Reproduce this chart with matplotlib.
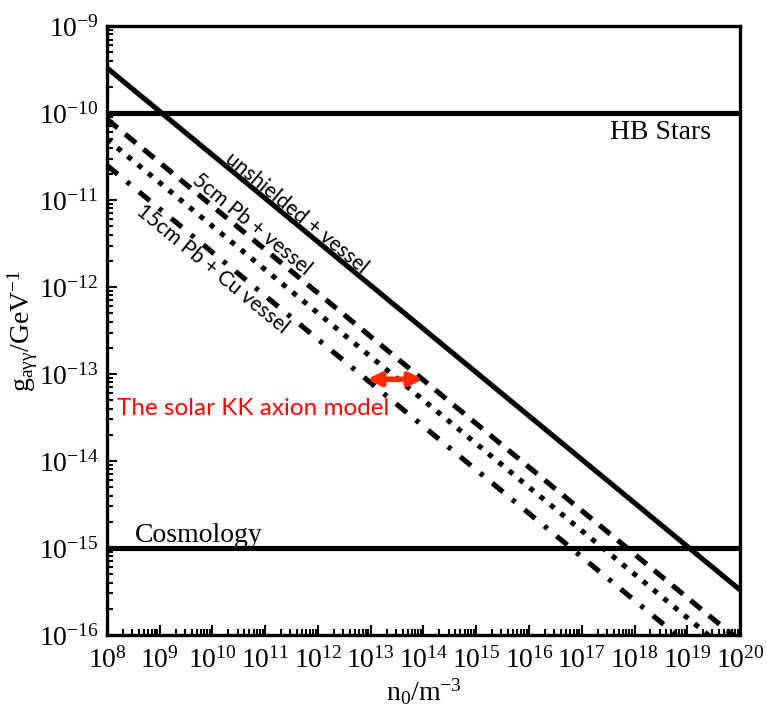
"""
Axion-photon coupling sensitivity vs. KK axion number density.
Log-log plot with exclusion lines for several shielding setups,
the HB-star and cosmology bounds, and the solar KK axion model range.
"""
import matplotlib
matplotlib.use("Agg")
import matplotlib.pyplot as plt
import matplotlib.ticker as mticker
import numpy as np

# ---------------------------------------------------------------------------
# Data
# ---------------------------------------------------------------------------

# density range covered by the sensitivity lines (m^-3)
n_range = [1e8, 1e20]

# g_agg (GeV^-1) at the two ends of n_range, slope n^-1/2
g_unshielded = [3.3e-10, 3.3e-16]
g_5cm_pb = [8.5e-11, 8.5e-17]
g_15cm_pb_cu = [5.0e-11, 5.0e-17]
g_15cm_label = [2.5e-11, 2.5e-17]

# astrophysical / cosmological bounds
g_hb_stars = 1e-10
g_cosmology = 1e-15

# solar KK axion model: density span at fixed coupling
kk_n = [8.5e12, 9.8e13]
kk_g = 8.7e-14

x_decades = list(range(8, 21))
y_decades = list(range(-16, -8))

SERIF = "Liberation Serif"
SANS = "Lato"

plt.rcParams.update({
    "font.family": SERIF,
    "mathtext.fontset": "custom",
    "mathtext.rm": SERIF,
    "mathtext.it": SERIF + ":italic",
    "axes.unicode_minus": False,
})


def _pow10(v, _):
    e = int(round(np.log10(v)))
    return rf"$\mathregular{{10^{{{e}}}}}$"


fig = plt.figure(figsize=(7.67, 7.13), dpi=100)
ax = fig.add_axes([0.1395, 0.1094, 0.8253, 0.8541])

lw = 3.7
ax.plot(n_range, g_unshielded, color="black", lw=lw, solid_capstyle="butt")
ax.plot(n_range, g_5cm_pb, color="black", lw=lw,
        linestyle=(0, (2.7, 1.9)), dash_capstyle="butt")
ax.plot(n_range, g_15cm_pb_cu, color="black", lw=lw,
        linestyle=(0, (1.0, 1.6)), dash_capstyle="butt")
ax.plot(n_range, g_15cm_label, color="black", lw=lw,
        linestyle=(0, (2.7, 2.3, 0.8, 2.3)), dash_capstyle="butt")

ax.axhline(g_hb_stars, color="black", lw=lw)
ax.axhline(g_cosmology, color="black", lw=lw)

ax.set_xscale("log")
ax.set_yscale("log")
ax.set_xlim(10.0 ** x_decades[0], 10.0 ** x_decades[-1])
ax.set_ylim(10.0 ** y_decades[0], 10.0 ** y_decades[-1])

ax.xaxis.set_major_locator(mticker.FixedLocator([10.0 ** d for d in x_decades]))
ax.yaxis.set_major_locator(mticker.FixedLocator([10.0 ** d for d in y_decades]))
ax.xaxis.set_minor_locator(mticker.LogLocator(base=10, subs=np.arange(2, 10), numticks=50))
ax.yaxis.set_minor_locator(mticker.LogLocator(base=10, subs=np.arange(2, 10), numticks=50))
ax.xaxis.set_major_formatter(mticker.FuncFormatter(_pow10))
ax.yaxis.set_major_formatter(mticker.FuncFormatter(_pow10))
ax.xaxis.set_minor_formatter(mticker.NullFormatter())
ax.yaxis.set_minor_formatter(mticker.NullFormatter())

ax.tick_params(which="both", direction="in", top=False, right=False,
               width=1.5, labelsize=20)
ax.tick_params(which="major", length=7)
ax.tick_params(which="minor", length=4)
ax.tick_params(axis="x", pad=9)
ax.tick_params(axis="y", pad=6)
for sp in ax.spines.values():
    sp.set_linewidth(2.4)

ax.set_xlabel(r"$\mathregular{n_0/m^{-3}}$", fontsize=20, labelpad=2)
ax.set_ylabel(r"$\mathregular{g_{aγγ}/GeV^{-1}}$", fontsize=20, labelpad=-1)

# bound labels
ax.text(3.5e17, 5.0e-11, "HB Stars", fontsize=20, ha="left", va="baseline")
ax.text(3.4e8, 1.17e-15, "Cosmology", fontsize=20, ha="left", va="baseline")

# labels along the sensitivity lines
rot = -39.5
ax.text(4.0e11, 7.1e-12, "unshielded + vessel", family=SANS, fontsize=15,
        rotation=rot, rotation_mode="anchor", ha="center", va="center")
ax.text(5.6e10, 5.3e-12, "5cm Pb + vessel", family=SANS, fontsize=15,
        rotation=rot, rotation_mode="anchor", ha="center", va="center")
ax.text(1.0e10, 1.6e-12, "15cm Pb + Cu vessel", family=SANS, fontsize=15,
        rotation=rot, rotation_mode="anchor", ha="center", va="center")

# solar KK axion model
ax.annotate("", xy=(kk_n[1], kk_g), xytext=(kk_n[0], kk_g),
            arrowprops=dict(arrowstyle="<|-|>", color="#FF2A00", lw=4,
                            mutation_scale=19, shrinkA=0, shrinkB=0))
ax.text(1.55e8, 3.4e-14, "The solar KK axion model", family=SANS,
        fontsize=17.5, color="#FF0000", ha="left", va="baseline")

fig.savefig("out.png", dpi=100)
